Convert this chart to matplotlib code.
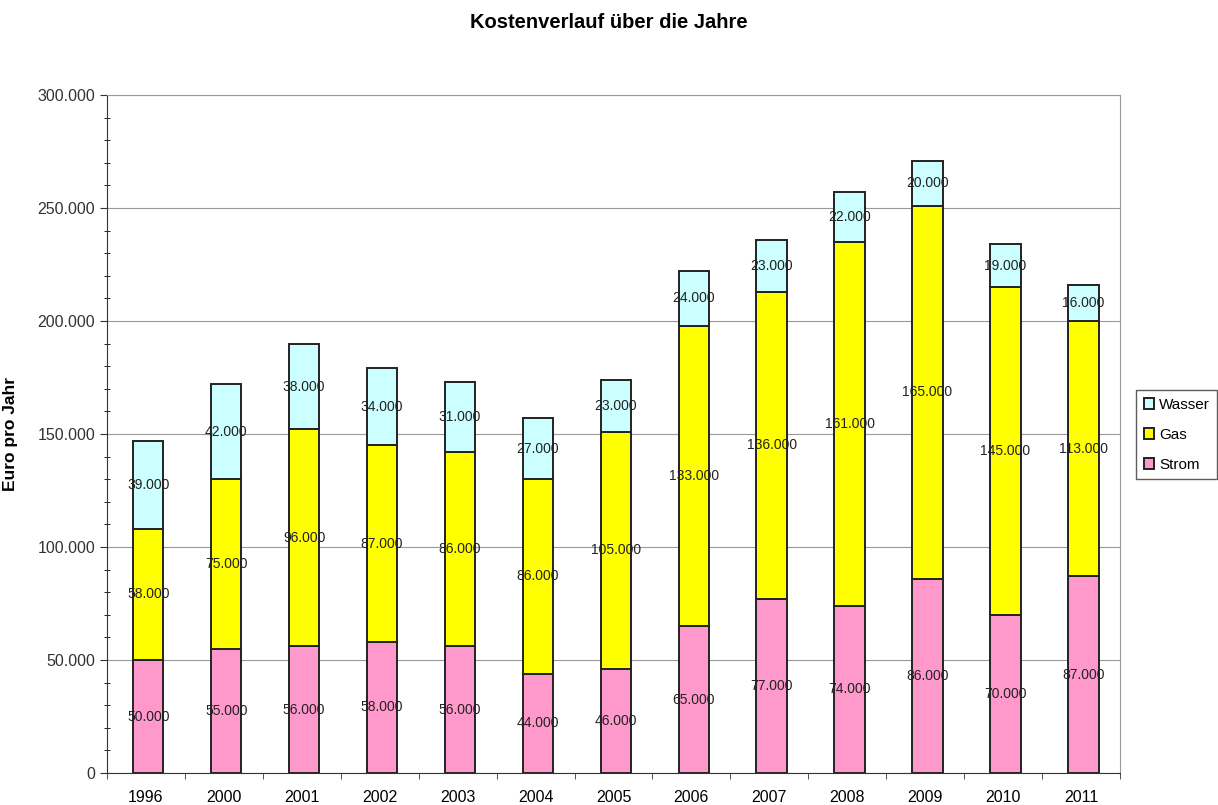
import matplotlib
matplotlib.use("Agg")
import matplotlib.pyplot as plt
import numpy as np
from matplotlib.ticker import FuncFormatter, MultipleLocator, FixedLocator

years = ["1996", "2000", "2001", "2002", "2003", "2004", "2005",
         "2006", "2007", "2008", "2009", "2010", "2011"]
strom = [50000, 55000, 56000, 58000, 56000, 44000, 46000, 65000, 77000, 74000, 86000, 70000, 87000]
gas = [58000, 75000, 96000, 87000, 86000, 86000, 105000, 133000, 136000, 161000, 165000, 145000, 113000]
wasser = [39000, 42000, 38000, 34000, 31000, 27000, 23000, 24000, 23000, 22000, 20000, 19000, 16000]

plt.rcParams['font.family'] = ['Liberation Sans', 'DejaVu Sans']

def fmt(v):
    return f"{int(v):,}".replace(",", ".")

fig = plt.figure(figsize=(12.18, 8.05), dpi=100)
ax = fig.add_axes([107/1218, 32/805, (1120-107)/1218, (773-95)/805])

x = np.arange(len(years))
w = 0.39
series = [("Strom", strom, "#FF99CC"), ("Gas", gas, "#FFFF00"), ("Wasser", wasser, "#CCFFFF")]
bottom = np.zeros(len(years))
handles = []
for name, vals, col in series:
    vals = np.array(vals, dtype=float)
    b = ax.bar(x + 0.03, vals, w, bottom=bottom, color=col, edgecolor="#222222", linewidth=1.4, label=name, zorder=3)
    handles.append(b)
    for xi, bi, vi in zip(x, bottom, vals):
        ax.text(xi + 0.03, bi + vi/2, fmt(vi), ha="center", va="center", fontsize=10, color="#222222", zorder=4)
    bottom += vals

ax.set_xlim(-0.5, len(years) - 0.5)
ax.set_ylim(0, 300000)
ax.yaxis.set_major_locator(MultipleLocator(50000))
ax.yaxis.set_minor_locator(MultipleLocator(10000))
ax.yaxis.set_major_formatter(FuncFormatter(lambda v, p: fmt(v)))
ax.set_xticks(x)
ax.set_xticklabels(years, fontsize=11.5)
ax.xaxis.set_minor_locator(FixedLocator(np.arange(-0.5, len(years), 1.0)))
ax.tick_params(axis="y", labelsize=11.5, direction="out", length=5, colors="#333333")
ax.tick_params(axis="y", which="minor", direction="inout", length=4)
ax.tick_params(axis="x", which="major", length=0, labelsize=11.5, pad=12)
ax.tick_params(axis="x", which="minor", direction="out", length=4, color="#333333")
ax.grid(axis="y", color="#999999", linewidth=0.8, zorder=0)
for s in ["top", "right"]:
    ax.spines[s].set_color("#999999")
ax.spines["left"].set_color("#333333")
ax.spines["bottom"].set_color("#333333")
ax.set_ylabel("Euro pro Jahr", fontsize=12.5, fontweight="bold", labelpad=14)

fig.suptitle("Kostenverlauf über die Jahre", fontsize=14.5, fontweight="bold", y=1 - 22/805, va="center")

leg = ax.legend(handles[::-1], [s[0] for s in series][::-1], loc="upper left",
                bbox_to_anchor=(1136/1218, 1 - 390/805), bbox_transform=fig.transFigure,
                fontsize=11, frameon=True, fancybox=False,
                edgecolor="#333333", handlelength=0.7, handleheight=0.7, handletextpad=0.3,
                labelspacing=1.05, borderpad=0.5, borderaxespad=0)

fig.savefig("out.png", dpi=100)
